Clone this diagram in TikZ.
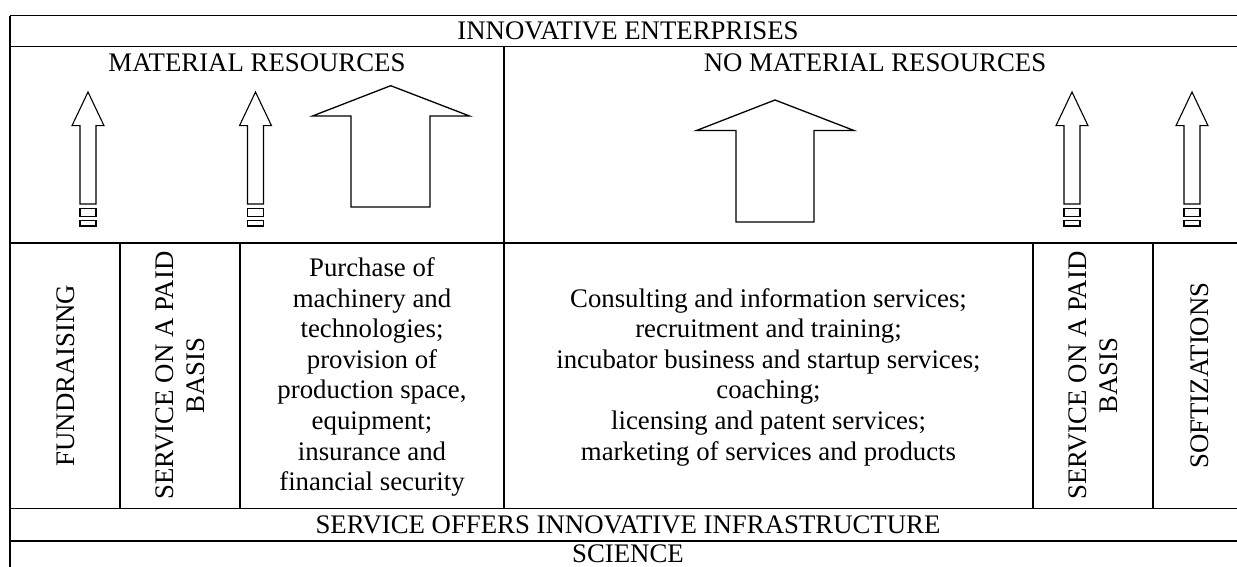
\documentclass[tikz,border=0pt]{standalone}
\usepackage{fontspec}
\setmainfont{Liberation Serif}
\begin{document}
\begin{tikzpicture}[x=1bp,y=-1bp,line width=1.2bp,
  lbl/.style={inner sep=0pt,font=\fontsize{26.8bp}{30.6bp}\selectfont,align=center},
  vlbl/.style={lbl,rotate=90},
  thinarrow/.style={line width=1.1bp,line join=miter},
  fatarrow/.style={line width=1.3bp,line join=miter}]
\useasboundingbox (0,0) rectangle (1237,567);
\clip (0,0) rectangle (1237,567);
% grid
\draw (10,15.7) -- (1250,15.7);
\draw (10,15.7) -- (10,580);
\draw (1246,15.7) -- (1246,580);
\draw (10,46.7) -- (1250,46.7);
\draw (10,243) -- (1250,243);
\draw (10,508.5) -- (1250,508.5);
\draw (10,541) -- (1250,541);
\draw (504,46.7) -- (504,508.5);
\draw (120,243) -- (120,508.5);
\draw (240,243) -- (240,508.5);
\draw (1033,243) -- (1033,508.5);
\draw (1153,243) -- (1153,508.5);
% texts
\node[lbl] (title) at (628,31.2) {INNOVATIVE ENTERPRISES};
\node[lbl] (mat) at (257,62.5) {MATERIAL RESOURCES};
\node[lbl] (nomat) at (875,62.5) {NO MATERIAL RESOURCES};
\node[vlbl] (fund) at (66,375.5) {FUNDRAISING};
\node[vlbl] (paid1) at (180,375.5) {SERVICE ON A PAID\\BASIS};
\node[lbl] (purch) at (372,377) {Purchase of\\machinery and\\technologies;\\provision of\\production space,\\equipment;\\insurance and\\financial security};
\node[lbl] (cons) at (768.5,377) {Consulting and information services;\\recruitment and training;\\incubator business and startup services;\\coaching;\\licensing and patent services;\\marketing of services and products};
\node[vlbl] (paid2) at (1093,375.5) {SERVICE ON A PAID\\BASIS};
\node[vlbl] (soft) at (1200,375.5) {SOFTIZATIONS};
\node[lbl] (infra) at (628,525) {SERVICE OFFERS INNOVATIVE INFRASTRUCTURE};
\node[lbl] (sci) at (628,554) {SCIENCE};
% small arrows
\foreach \cx in {88,255.5,1072,1192}{
  \draw[thinarrow] (\cx,92) -- (\cx+16,125.7) -- (\cx+8,125.7) -- (\cx+8,204)
     -- (\cx-8,204) -- (\cx-8,125.7) -- (\cx-16,125.7) -- cycle;
  \draw[thinarrow] (\cx-8,208.3) rectangle (\cx+8,216.3);
  \draw[thinarrow] (\cx-8,220.7) rectangle (\cx+8,226);
}
% big arrows
\draw[fatarrow] (390.7,85.7) -- (469.5,116) -- (430,116) -- (430,207)
   -- (351,207) -- (351,116) -- (312.5,116) -- cycle;
\draw[fatarrow] (775,100) -- (854,130.5) -- (814,130.5) -- (814,222)
   -- (736,222) -- (736,130.5) -- (696.5,130.5) -- cycle;
\end{tikzpicture}
\end{document}
